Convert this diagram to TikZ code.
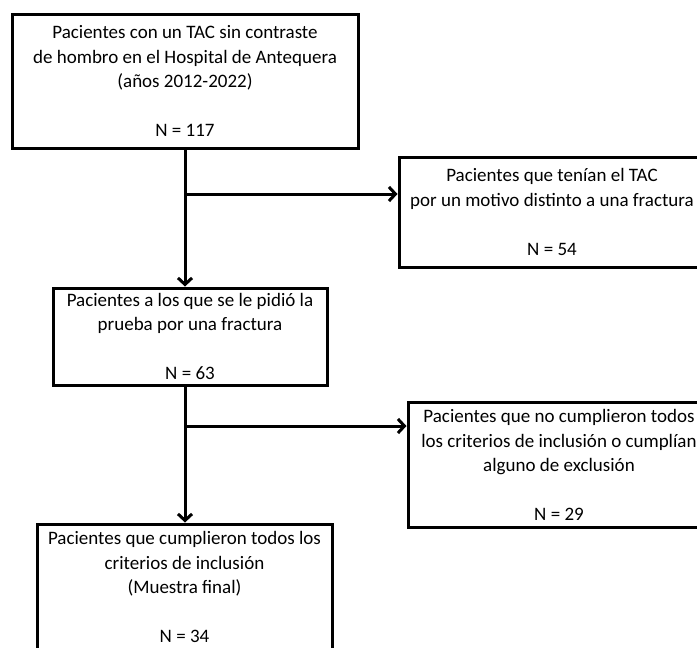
\documentclass[tikz,border=0pt]{standalone}
\usepackage{fontspec}
\setmainfont{Carlito}
\usetikzlibrary{arrows.meta}

\begin{document}
\begin{tikzpicture}[x=1pt,y=-1pt,>={Straight Barb[length=6.5pt,width=14pt,line width=3pt]},
    caja/.style={draw,line width=3pt,align=center,inner sep=0pt,font=\fontsize{19}{24.5}\selectfont},
    flecha/.style={->,line width=3pt}]
 \clip (0,0) rectangle (697,648);

 \node[caja,minimum width=346pt,minimum height=134pt] (total) at (185,81)
   {Pacientes con un TAC sin contraste\\de hombro en el Hospital de Antequera\\(años 2012-2022)\\[24.5pt]N = 117};
 \node[caja,minimum width=306pt,minimum height=110pt] (otros) at (552,212)
   {Pacientes que tenían el TAC\\por un motivo distinto a una fractura\\[24.5pt]N = 54};
 \node[caja,minimum width=274pt,minimum height=97pt] (fractura) at (190,336.5)
   {Pacientes a los que se le pidió la\\prueba por una fractura\\[24.5pt]N = 63};
 \node[caja,minimum width=302pt,minimum height=125pt] (excluidos) at (559,465)
   {Pacientes que no cumplieron todos\\los criterios de inclusión o cumplían\\alguno de exclusión\\[24.5pt]N = 29};
 \node[caja,minimum width=295pt,minimum height=126pt] (muestra) at (184.5,587)
   {Pacientes que cumplieron todos los\\criterios de inclusión\\(Muestra final)\\[24.5pt]N = 34};

 \coordinate (j1) at (total.south |- 0,194);
 \coordinate (j2) at (total.south |- 0,426);
 \draw[flecha] (total.south) -- (total.south |- fractura.north);
 \draw[flecha] (j1) -- (j1 -| otros.west);
 \draw[flecha] (total.south |- fractura.south) -- (total.south |- muestra.north);
 \draw[flecha] (j2) -- (j2 -| excluidos.west);
\end{tikzpicture}
\end{document}
